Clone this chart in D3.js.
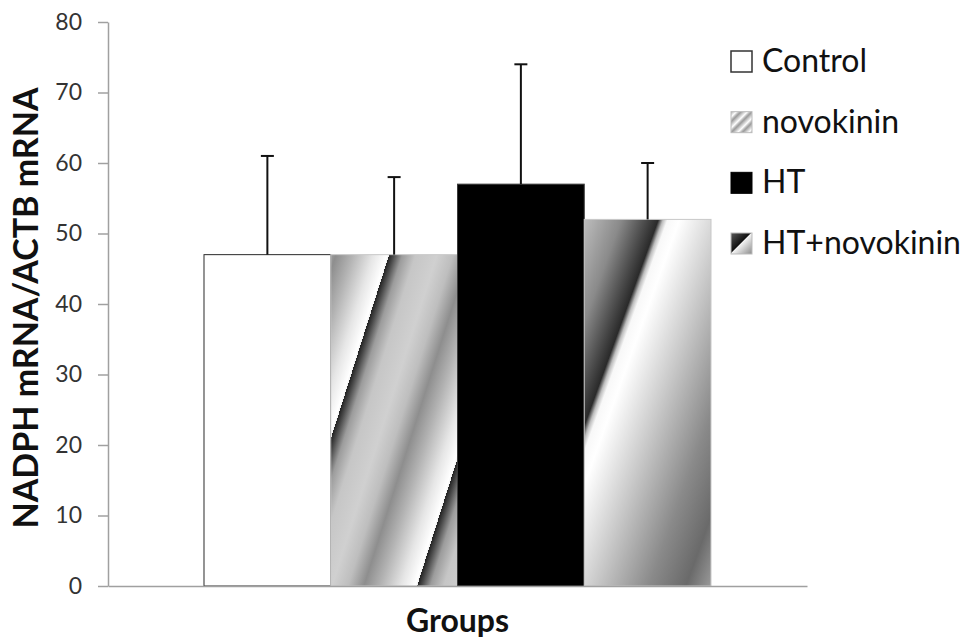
<!DOCTYPE html>
<html>
<head>
<meta charset="utf-8">
<script src="https://cdn.jsdelivr.net/npm/d3@7/dist/d3.min.js"></script>
<style>
  html, body { margin: 0; padding: 0; background: #fff; }
  svg { display: block; }
</style>
</head>
<body>
<svg id="chart" width="971" height="641"></svg>
<script>
// NADPH expression by treatment group (mean and SD)
const categories = ["Groups"];
const seriesNames = ["Control", "novokinin", "HT", "HT+novokinin"];
const means = [47, 47, 57, 52];
const errors = [14, 11, 17, 8];
const yTicks = [0, 10, 20, 30, 40, 50, 60, 70, 80];
const yTitle = "NADPH mRNA/ACTB mRNA";

const svg = d3.select("#chart");
const plot = { left: 108, right: 807, top: 22, bottom: 586 };

const y = d3.scaleLinear().domain([0, 80]).range([plot.bottom, plot.top]);
const x0 = d3.scaleBand().domain(categories).range([plot.left, plot.right])
  .paddingInner(0.1592).paddingOuter(0.1592);
const x1 = d3.scaleBand().domain(seriesNames).range([0, x0.bandwidth()]).padding(0);

const data = seriesNames.map((name, i) => ({ name, mean: means[i], err: errors[i] }));
const defs = svg.append("defs");

function barBox(d) {
  const bx = x0(categories[0]) + x1(d.name);
  const by = y(d.mean);
  return { bx, by, bw: x1.bandwidth(), bh: y(0) - by };
}

// novokinin: repeating slanted sawtooth shading
(function () {
  const b = barBox(data[1]);
  const ox = b.bx + 0.016 * b.bw, oy = b.by + 0.537 * b.bh;
  const g = defs.append("linearGradient").attr("id", "gNovo")
    .attr("gradientUnits", "userSpaceOnUse").attr("spreadMethod", "repeat")
    .attr("x1", ox).attr("y1", oy)
    .attr("x2", ox + 0.953 * b.bw).attr("y2", oy + 0.302 * b.bw);
  [[0, "#222222"], [0.035, "#4a4a4a"], [0.1, "#9c9c9c"], [0.2, "#c6c6c6"], [0.36, "#d0d0d0"],
   [0.48, "#bebebe"], [0.6, "#8e8e8e"], [0.72, "#b2b2b2"], [0.88, "#e6e6e6"], [0.985, "#ffffff"], [1, "#f0f0f0"]]
    .forEach(([o, c]) => g.append("stop").attr("offset", o).attr("stop-color", c));
})();

// HT+novokinin: single slanted edge, dark to the left, light to the right
(function () {
  const b = barBox(data[3]);
  const ex = b.bx - 0.008 * b.bw, ey = b.by + 0.611 * b.bh;
  const nx = 0.941, ny = 0.338;
  const a = 0.63 * b.bw, c2 = 1.34 * b.bw;
  const g = defs.append("linearGradient").attr("id", "gHtNovo")
    .attr("gradientUnits", "userSpaceOnUse")
    .attr("x1", ex - nx * a).attr("y1", ey - ny * a)
    .attr("x2", ex + nx * c2).attr("y2", ey + ny * c2);
  [[0, "#c4c4c4"], [0.16, "#8a8a8a"], [0.3, "#2a2a2a"], [0.318, "#bdbdbd"], [0.335, "#f8f8f8"],
   [0.38, "#ffffff"], [0.56, "#c8c8c8"], [0.76, "#8a8a8a"], [0.9, "#6a6a6a"], [1, "#9c9c9c"]]
    .forEach(([o, c]) => g.append("stop").attr("offset", o).attr("stop-color", c));
})();

const fills = {
  "Control": "#ffffff",
  "novokinin": "url(#gNovo)",
  "HT": "#000000",
  "HT+novokinin": "url(#gHtNovo)"
};
const strokes = {
  "Control": "#2a2a2a",
  "novokinin": "#c8c8c8",
  "HT": "#3a3a3a",
  "HT+novokinin": "#c8c8c8"
};

// y axis
const yAxis = svg.append("g")
  .attr("transform", `translate(${plot.left},0)`)
  .call(d3.axisLeft(y).tickValues(yTicks).tickSize(10).tickSizeOuter(0).tickPadding(16));
yAxis.select(".domain").attr("stroke", "#a0a0a0").attr("stroke-width", 1.5);
yAxis.selectAll(".tick line").attr("stroke", "#a0a0a0").attr("stroke-width", 1.5);
yAxis.selectAll(".tick text")
  .attr("font-family", "Lato, 'Open Sans', sans-serif")
  .attr("font-size", 23).attr("fill", "#333");

// bars
svg.append("g").selectAll("rect").data(data).join("rect")
  .attr("x", d => x0(categories[0]) + x1(d.name))
  .attr("y", d => y(d.mean))
  .attr("width", x1.bandwidth())
  .attr("height", d => y(0) - y(d.mean))
  .attr("fill", d => fills[d.name])
  .attr("stroke", d => strokes[d.name])
  .attr("stroke-width", 1);

// error bars (upper only)
const eb = svg.append("g").attr("stroke", "#111").attr("stroke-width", 2);
data.forEach(d => {
  const cx = x0(categories[0]) + x1(d.name) + x1.bandwidth() / 2;
  eb.append("line").attr("x1", cx).attr("x2", cx)
    .attr("y1", y(d.mean)).attr("y2", y(d.mean + d.err));
  eb.append("line").attr("x1", cx - 6.5).attr("x2", cx + 6.5)
    .attr("y1", y(d.mean + d.err)).attr("y2", y(d.mean + d.err));
});

// x axis
const xAxis = svg.append("g")
  .attr("transform", `translate(0,${plot.bottom})`)
  .call(d3.axisBottom(x0).tickSize(0).tickSizeOuter(0));
xAxis.select(".domain").attr("stroke", "#a0a0a0").attr("stroke-width", 1.5);
xAxis.selectAll(".tick text")
  .attr("y", 46).attr("dy", 0)
  .attr("font-family", "Lato, 'Open Sans', sans-serif")
  .attr("font-weight", "bold").attr("font-size", 32).attr("fill", "#111");

// y axis title
svg.append("text")
  .attr("transform", `translate(38,${(84 + 532) / 2}) rotate(-90)`)
  .attr("text-anchor", "middle")
  .attr("font-family", "Lato, 'Open Sans', sans-serif")
  .attr("font-weight", "bold").attr("font-size", 34).attr("fill", "#111")
  .text(yTitle);

// legend
const legendIcon = {
  "Control": "#ffffff",
  "novokinin": "url(#gLegNovo)",
  "HT": "#000000",
  "HT+novokinin": "url(#gLegHtNovo)"
};
(function () {
  const g1 = defs.append("linearGradient").attr("id", "gLegNovo")
    .attr("gradientUnits", "userSpaceOnUse").attr("spreadMethod", "repeat")
    .attr("x1", 0).attr("y1", 0).attr("x2", 5.5).attr("y2", 5.5);
  [[0, "#9a9a9a"], [0.35, "#d6d6d6"], [0.6, "#ffffff"], [0.8, "#c4c4c4"], [1, "#9a9a9a"]]
    .forEach(([o, c]) => g1.append("stop").attr("offset", o).attr("stop-color", c));
  const g2 = defs.append("linearGradient").attr("id", "gLegHtNovo")
    .attr("x1", 0).attr("y1", 0).attr("x2", 1).attr("y2", 1);
  [[0, "#5a5a5a"], [0.46, "#111111"], [0.5, "#f2f2f2"], [1, "#8a8a8a"]]
    .forEach(([o, c]) => g2.append("stop").attr("offset", o).attr("stop-color", c));
})();

const legend = svg.append("g");
const legY = d3.scalePoint().domain(seriesNames).range([72, 254]);
seriesNames.forEach(name => {
  const base = legY(name);
  const row = legend.append("g").attr("transform", `translate(731,${base})`);
  row.append("rect").attr("x", 0).attr("y", -21).attr("width", 21).attr("height", 21)
    .attr("fill", legendIcon[name])
    .attr("stroke", name === "Control" ? "#333" : (name === "HT" ? "#000" : "#bbb"))
    .attr("stroke-width", name === "Control" ? 1.5 : 1);
  row.append("text").attr("x", 31).attr("y", 0)
    .attr("font-family", "Lato, 'Open Sans', sans-serif")
    .attr("font-size", 32).attr("fill", "#111")
    .text(name);
});
</script>
</body>
</html>
